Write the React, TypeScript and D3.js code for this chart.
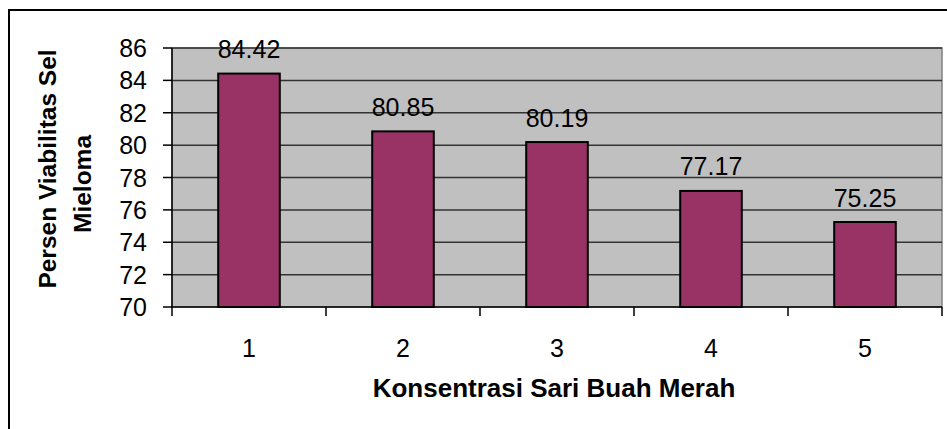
import React, { useMemo } from "react";
import * as d3 from "d3";

const categories = ["1", "2", "3", "4", "5"];
const values = [84.42, 80.85, 80.19, 77.17, 75.25];
const yTicks = [70, 72, 74, 76, 78, 80, 82, 84, 86];

const WIDTH = 947;
const HEIGHT = 429;
const PLOT = { left: 172, right: 942, top: 48, bottom: 307 };
const FONT = "Arial, 'Liberation Sans', Helvetica, sans-serif";

export default function App() {
  const xScale = useMemo(
    () =>
      d3
        .scaleBand()
        .domain(categories)
        .range([PLOT.left, PLOT.right])
        .paddingInner(0.6)
        .paddingOuter(0.3),
    []
  );

  const yScale = useMemo(
    () => d3.scaleLinear().domain([70, 86]).range([PLOT.bottom, PLOT.top]),
    []
  );

  // band boundaries for x tick marks
  const step = (PLOT.right - PLOT.left) / categories.length;
  const xBounds = d3.range(categories.length + 1).map((i) => PLOT.left + i * step);

  return (
    <svg
      width={WIDTH}
      height={HEIGHT}
      style={{ position: "absolute", left: 0, top: 0, background: "#fff" }}
      fontFamily={FONT}
    >
      {/* outer frame */}
      <rect x={9} y={10} width={960} height={460} fill="#fff" stroke="#000" strokeWidth={2} />

      {/* plot area */}
      <rect
        x={PLOT.left}
        y={PLOT.top}
        width={PLOT.right - PLOT.left}
        height={PLOT.bottom - PLOT.top}
        fill="#c0c0c0"
        stroke="#808080"
        strokeWidth={1.5}
      />

      {/* gridlines + y ticks */}
      {yTicks.map((t) => (
        <g key={t}>
          {t !== 70 && (
            <line
              x1={PLOT.left}
              x2={PLOT.right}
              y1={yScale(t)}
              y2={yScale(t)}
              stroke="#333"
              strokeWidth={1.5}
            />
          )}
          <line x1={163} x2={PLOT.left} y1={yScale(t)} y2={yScale(t)} stroke="#000" strokeWidth={1.5} />
          <text x={147} y={yScale(t) + 9} textAnchor="end" fontSize={25} fill="#000">
            {t}
          </text>
        </g>
      ))}

      {/* bars */}
      {categories.map((c, i) => (
        <g key={c}>
          <rect
            x={xScale(c)}
            y={yScale(values[i])}
            width={xScale.bandwidth()}
            height={yScale(70) - yScale(values[i])}
            fill="#993366"
            stroke="#000"
            strokeWidth={2}
          />
          <text
            x={xScale(c)! + xScale.bandwidth() / 2}
            y={yScale(values[i]) - 15.5}
            textAnchor="middle"
            fontSize={25}
            fill="#000"
          >
            {values[i].toFixed(2)}
          </text>
          <text
            x={xScale(c)! + xScale.bandwidth() / 2}
            y={357}
            textAnchor="middle"
            fontSize={25}
            fill="#000"
          >
            {c}
          </text>
        </g>
      ))}

      {/* axes */}
      <line x1={PLOT.left} x2={PLOT.left} y1={PLOT.top} y2={PLOT.bottom} stroke="#000" strokeWidth={1.5} />
      <line x1={PLOT.left} x2={PLOT.right} y1={PLOT.bottom} y2={PLOT.bottom} stroke="#000" strokeWidth={1.5} />
      {xBounds.map((x, i) => (
        <line key={i} x1={x} x2={x} y1={PLOT.bottom} y2={316} stroke="#000" strokeWidth={1.5} />
      ))}

      {/* axis titles */}
      <text x={554} y={397} textAnchor="middle" fontSize={26} fontWeight="bold" fill="#000">
        Konsentrasi Sari Buah Merah
      </text>
      <text
        transform="translate(56,169) rotate(-90)"
        textAnchor="middle"
        fontSize={24.5}
        fontWeight="bold"
        fill="#000"
      >
        Persen Viabilitas Sel
      </text>
      <text
        transform="translate(91,184) rotate(-90)"
        textAnchor="middle"
        fontSize={24.5}
        fontWeight="bold"
        fill="#000"
      >
        Mieloma
      </text>
    </svg>
  );
}
